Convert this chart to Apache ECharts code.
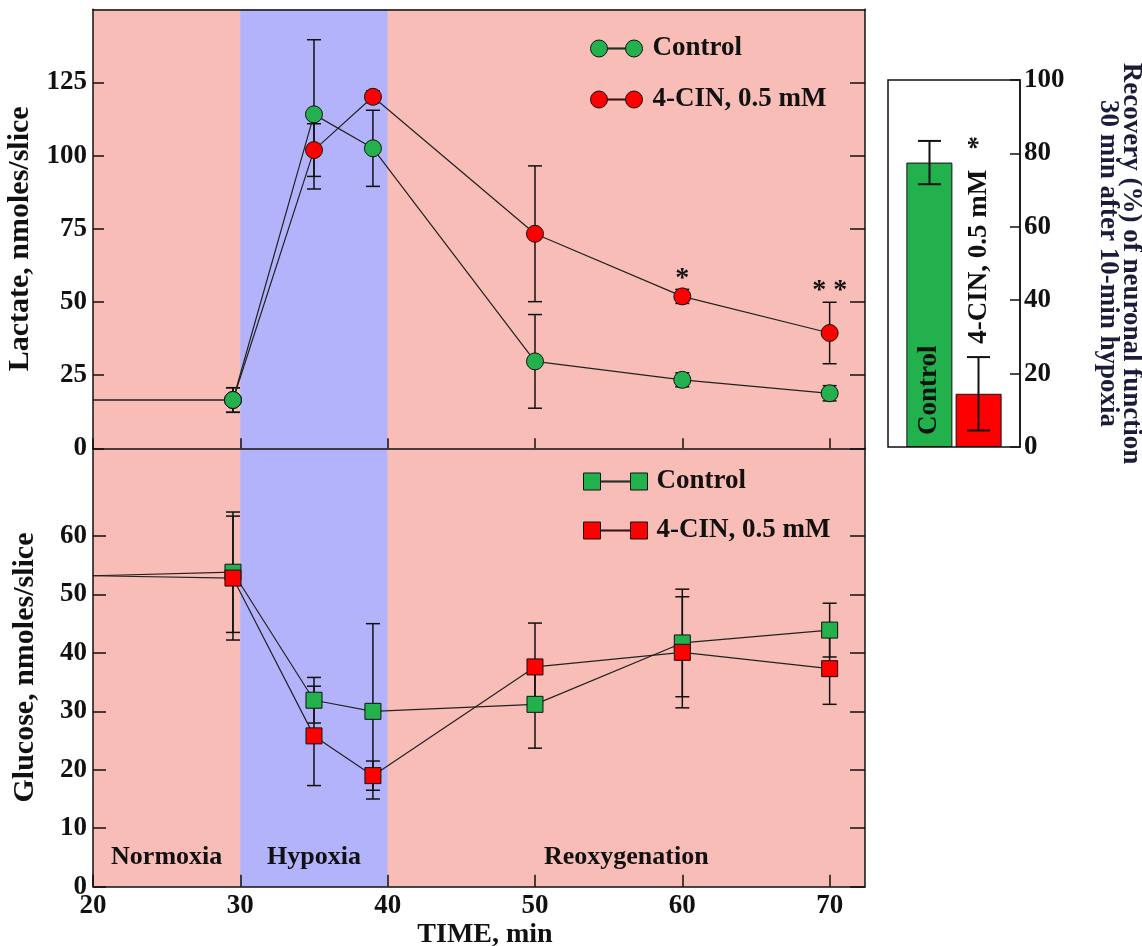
<!DOCTYPE html>
<html>
<head>
<meta charset="utf-8">
<script src="https://cdn.jsdelivr.net/npm/echarts@6/dist/echarts.min.js"></script>
<style>
html,body{margin:0;padding:0;background:#fff;}
#chart{width:1142px;height:946px;}
</style>
</head>
<body>
<div id="chart"></div>
<script>
// ---------------- data ----------------
const times = [29.5, 35, 39, 50, 60, 70];

const lactateBaseline = 16.5;
const lactateControl = [16.5, 114.1, 102.5, 29.7, 23.4, 18.8];
const lactateControlErr = [4.2, 25.5, 13, 16, 2.4, 2.6];
const lactateCin = [16.5, 101.9, 120.1, 73.3, 51.9, 39.4];
const lactateCinErr = [4.2, 9, 2, 23.2, 2.4, 10.5];
const lactateCinSig = ['', '', '', '', '*', '* *'];

const glucoseBaseline = 53.2;
const glucoseControl = [53.8, 31.9, 30.0, 31.2, 41.7, 43.9];
const glucoseControlErr = [10.3, 3.9, 15, 7.5, 9.2, 4.6];
const glucoseCin = [52.8, 25.8, 19.0, 37.6, 40.1, 37.3];
const glucoseCinErr = [10.6, 8.5, 2.5, 7.5, 9.5, 6.1];

const phaseNames = ['Normoxia', 'Hypoxia', 'Reoxygenation'];
const phaseBounds = [20, 30, 40, 72.4];

const timeTicks = [20, 30, 40, 50, 60, 70];
const lactateTicks = [0, 25, 50, 75, 100, 125];
const glucoseTicks = [0, 10, 20, 30, 40, 50, 60];
const recoveryTicks = [0, 20, 40, 60, 80, 100];

const recoveryGroups = ['Control', '4-CIN, 0.5 mM'];
const recoveryMean = [77.5, 14.5];
const recoveryErr = [5.9, 10.0];
const recoverySig = ['', '*'];

// ---------------- style ----------------
const SALMON = '#F8BDB6', LAVENDER = '#B3B3FB', GREEN = '#22B14C', RED = '#FF0000', INK = '#111111';
const FONT = 'Liberation Serif';
const txt = (size, extra) => Object.assign({fontFamily: FONT, fontWeight: 'bold', fontSize: size, color: INK}, extra || {});
const axisLineStyle = {show: true, onZero: false, lineStyle: {color: INK, width: 1.5}};
const tickStyle = {color: INK, width: 1.5};

const circlePair = 'path://M0,8.5A8.5,8.5 0 1,1 17,8.5A8.5,8.5 0 1,1 0,8.5Z M17,8L35,8L35,9L17,9Z M35,8.5A8.5,8.5 0 1,1 52,8.5A8.5,8.5 0 1,1 35,8.5Z';
const squarePair = 'path://M0,0L17,0L17,17L0,17Z M17,8L47,8L47,9L17,9Z M47,0L64,0L64,17L47,17Z';

function errorRenderer(capWidth, lineWidth, sigMarks, offsets) {
  return function (params, api) {
    const x = api.value(0), lo = api.value(1), hi = api.value(2);
    const a = api.coord([x, lo]), b = api.coord([x, hi]);
    const cx = a[0] + (offsets ? offsets[params.dataIndex] : 0);
    const st = {stroke: INK, lineWidth: lineWidth};
    const children = [
      {type: 'line', shape: {x1: cx, y1: a[1], x2: cx, y2: b[1]}, style: st},
      {type: 'line', shape: {x1: cx - capWidth / 2, y1: a[1], x2: cx + capWidth / 2, y2: a[1]}, style: st},
      {type: 'line', shape: {x1: cx - capWidth / 2, y1: b[1], x2: cx + capWidth / 2, y2: b[1]}, style: st}
    ];
    const sig = sigMarks ? sigMarks[params.dataIndex] : '';
    if (sig) {
      children.push({type: 'text', x: cx, y: b[1] - 11,
        style: {text: sig, fill: INK, fontFamily: FONT, fontWeight: 'bold', fontSize: 28, align: 'center', verticalAlign: 'middle'}});
    }
    return {type: 'group', children: children};
  };
}

function lineSeries(name, xi, yi, base, values, color, symbol, size, z, markArea) {
  const s = {
    name: name, type: 'line', xAxisIndex: xi, yAxisIndex: yi, z: z,
    symbol: symbol, symbolSize: size, showAllSymbol: true,
    itemStyle: {color: color, borderColor: INK, borderWidth: 1},
    lineStyle: {color: '#222', width: 1.2},
    data: [{value: [phaseBounds[0], base], symbol: 'none'}].concat(times.map((t, i) => [t, values[i]]))
  };
  if (markArea) s.markArea = markArea;
  return s;
}

function errSeries(name, xi, yi, values, errs, sig) {
  return {
    name: name, type: 'custom', xAxisIndex: xi, yAxisIndex: yi, z: 2,
    renderItem: errorRenderer(14, 1.5, sig),
    encode: {x: 0, y: [1, 2]},
    data: times.map((t, i) => [t, values[i] - errs[i], values[i] + errs[i]])
  };
}

function phaseAreas(showLabels) {
  return {
    silent: true,
    label: txt(26, {show: showLabels, position: 'insideBottom', distance: 16}),
    data: phaseNames.map((n, i) => [
      {name: n, xAxis: phaseBounds[i], itemStyle: {color: i === 1 ? LAVENDER : SALMON, opacity: 1}},
      {xAxis: phaseBounds[i + 1]}
    ])
  };
}

const barWidth = 46, barGapPx = 3;
const barOffsets = [-(barWidth + barGapPx) / 2, (barWidth + barGapPx) / 2];

const chart = echarts.init(document.getElementById('chart'), null, {renderer: 'canvas'});
chart.setOption({
  animation: false,
  backgroundColor: '#ffffff',
  grid: [
    {left: 93, top: 9.3, width: 772, height: 439, show: true, backgroundColor: SALMON, borderWidth: 0, outerBoundsMode: 'none'},
    {left: 93, top: 448.3, width: 772, height: 438.4, show: true, backgroundColor: SALMON, borderWidth: 0, outerBoundsMode: 'none'},
    {left: 888, top: 80, width: 132, height: 367, show: true, backgroundColor: '#ffffff', borderColor: INK, borderWidth: 1.5, outerBoundsMode: 'none'}
  ],
  legend: [
    {left: 585, top: 30, orient: 'vertical', itemWidth: 52, itemHeight: 17, itemGap: 24, icon: circlePair,
     selectedMode: false, data: ['Control', '4-CIN, 0.5 mM'],
     itemStyle: {borderColor: INK, borderWidth: 1},
     textStyle: txt(27, {padding: [0, 0, 0, 5]})},
    {left: 578, top: 463, orient: 'vertical', itemWidth: 64, itemHeight: 17, itemGap: 22, icon: squarePair,
     selectedMode: false, data: ['Control', '4-CIN, 0.5 mM'],
     itemStyle: {borderColor: INK, borderWidth: 1},
     textStyle: txt(27, {padding: [0, 0, 0, 4]})}
  ],
  xAxis: [
    {gridIndex: 0, type: 'value', min: phaseBounds[0], max: phaseBounds[3], position: 'bottom', z: 10,
     axisLine: axisLineStyle, splitLine: {show: false}, axisLabel: {show: false},
     axisTick: {show: true, inside: true, length: 10, lineStyle: tickStyle, customValues: timeTicks}},
    {gridIndex: 0, type: 'value', min: phaseBounds[0], max: phaseBounds[3], position: 'top', z: 10,
     axisLine: axisLineStyle, splitLine: {show: false}, axisLabel: {show: false}, axisTick: {show: false}},
    {gridIndex: 1, type: 'value', min: phaseBounds[0], max: phaseBounds[3], position: 'bottom', z: 10,
     axisLine: axisLineStyle, splitLine: {show: false},
     axisTick: {show: true, inside: true, length: 12, lineStyle: tickStyle, customValues: timeTicks},
     axisLabel: txt(27, {margin: 6, customValues: timeTicks}),
     name: 'TIME, min', nameLocation: 'middle', nameGap: 32,
     nameTextStyle: txt(28, {padding: [0, 0, 0, 12]})},
    {gridIndex: 2, type: 'category', data: ['Recovery'], axisLine: {show: false}, axisTick: {show: false},
     axisLabel: {show: false}, splitLine: {show: false}}
  ],
  yAxis: [
    {gridIndex: 0, type: 'value', min: 0, max: 150, position: 'left', z: 10,
     axisLine: axisLineStyle, splitLine: {show: false},
     axisTick: {show: true, inside: true, length: 11, lineStyle: tickStyle, customValues: lactateTicks},
     axisLabel: txt(27, {margin: 6, customValues: lactateTicks}),
     name: 'Lactate, nmoles/slice', nameLocation: 'middle', nameGap: 45,
     nameTextStyle: txt(30, {padding: [0, 20, 0, 0]})},
    {gridIndex: 0, type: 'value', min: 0, max: 150, position: 'right', z: 10,
     axisLine: axisLineStyle, splitLine: {show: false}, axisLabel: {show: false},
     axisTick: {show: true, inside: true, length: 15, lineStyle: tickStyle, customValues: lactateTicks}},
    {gridIndex: 1, type: 'value', min: 0, max: 75, position: 'left', z: 10,
     axisLine: axisLineStyle, splitLine: {show: false},
     axisTick: {show: true, inside: true, length: 13, lineStyle: tickStyle, customValues: glucoseTicks},
     axisLabel: txt(27, {margin: 6, customValues: glucoseTicks}),
     name: 'Glucose, nmoles/slice', nameLocation: 'middle', nameGap: 53,
     nameTextStyle: txt(30)},
    {gridIndex: 1, type: 'value', min: 0, max: 75, position: 'right', z: 10,
     axisLine: axisLineStyle, splitLine: {show: false}, axisLabel: {show: false},
     axisTick: {show: true, inside: true, length: 15, lineStyle: tickStyle, customValues: glucoseTicks}},
    {gridIndex: 2, type: 'value', min: 0, max: 100, position: 'right', z: 10,
     axisLine: axisLineStyle, splitLine: {show: false},
     axisTick: {show: true, inside: true, length: 10, lineStyle: tickStyle, customValues: recoveryTicks},
     axisLabel: txt(27, {margin: 4, customValues: recoveryTicks}),
     name: 'Recovery (%) of neuronal function\n30 min after 10-min hypoxia', nameLocation: 'middle',
     nameRotate: -90, nameGap: 76,
     nameTextStyle: txt(27, {lineHeight: 23, color: '#1b1b3b'})}
  ],
  series: [
    lineSeries('Control', 0, 0, lactateBaseline, lactateControl, GREEN, 'circle', 17, 4, phaseAreas(false)),
    lineSeries('4-CIN, 0.5 mM', 0, 0, lactateBaseline, lactateCin, RED, 'circle', 17, 3),
    errSeries('Control SEM (lactate)', 0, 0, lactateControl, lactateControlErr),
    errSeries('4-CIN SEM (lactate)', 0, 0, lactateCin, lactateCinErr, lactateCinSig),

    lineSeries('Control', 2, 2, glucoseBaseline, glucoseControl, GREEN, 'rect', 16, 3, phaseAreas(true)),
    lineSeries('4-CIN, 0.5 mM', 2, 2, glucoseBaseline, glucoseCin, RED, 'rect', 16, 4),
    errSeries('Control SEM (glucose)', 2, 2, glucoseControl, glucoseControlErr),
    errSeries('4-CIN SEM (glucose)', 2, 2, glucoseCin, glucoseCinErr),

    {name: 'Control recovery', type: 'bar', xAxisIndex: 3, yAxisIndex: 4, barWidth: barWidth, barGap: '7%', z: 2,
     itemStyle: {color: GREEN, borderColor: INK, borderWidth: 1},
     label: txt(27, {show: true, position: 'insideBottom', rotate: 90, align: 'left', verticalAlign: 'middle',
       distance: 12, formatter: recoveryGroups[0] + recoverySig[0]}),
     data: [recoveryMean[0]]},
    {name: '4-CIN recovery', type: 'bar', xAxisIndex: 3, yAxisIndex: 4, barWidth: barWidth, barGap: '7%', z: 2,
     itemStyle: {color: RED, borderColor: INK, borderWidth: 1},
     label: txt(27, {show: true, position: 'top', rotate: 90, align: 'left', verticalAlign: 'middle',
       distance: 50, formatter: recoveryGroups[1] + '   ' + recoverySig[1]}),
     data: [recoveryMean[1]]},
    {name: 'Recovery SEM', type: 'custom', xAxisIndex: 3, yAxisIndex: 4, z: 5,
     renderItem: errorRenderer(23, 2, null, barOffsets),
     encode: {x: 0, y: [1, 2]},
     data: recoveryMean.map((m, i) => [0, m - recoveryErr[i], m + recoveryErr[i]])}
  ]
});
</script>
</body>
</html>
